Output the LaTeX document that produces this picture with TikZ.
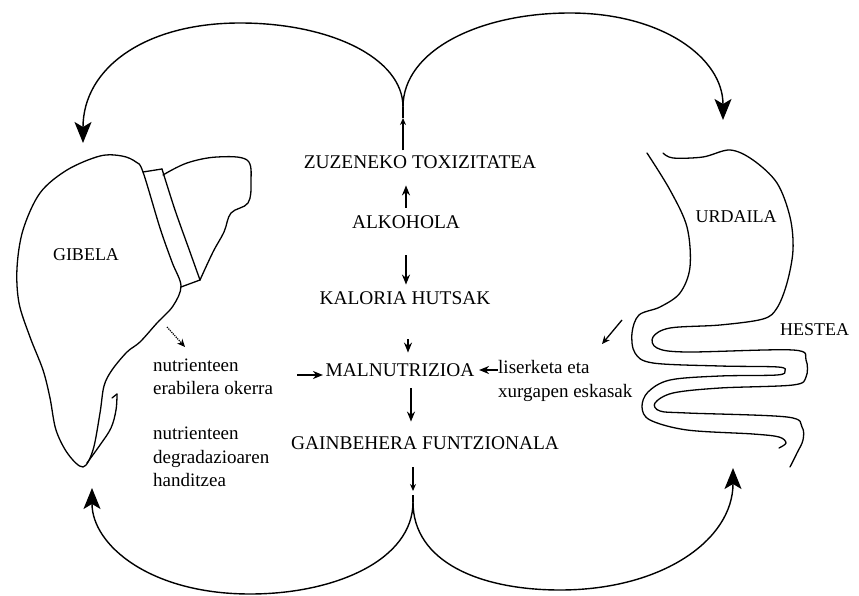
\documentclass[tikz,border=0pt]{standalone}
\usepackage{fontspec}
\setmainfont{Liberation Serif}
\usetikzlibrary{arrows.meta}
\begin{document}
\begin{tikzpicture}[x=1pt,y=-1pt,
  lbl/.style={inner sep=0pt, font=\fontsize{19.4}{23}\selectfont},
  organ/.style={inner sep=0pt, font=\fontsize{18}{22}\selectfont},
  note/.style={inner sep=0pt, align=left, anchor=west, font=\fontsize{19}{23.5}\selectfont},
  outline/.style={line width=1.3pt, line join=round, line cap=round},
  cyclearc/.style={line width=1.4pt, -{Stealth[length=21pt,width=17pt,inset=5pt]}},
  flow/.style={line width=1.8pt, -{Stealth[length=10pt,width=8pt]}},
  flowsmall/.style={line width=1.4pt, -{Stealth[length=7pt,width=6pt]}},
]
\useasboundingbox (0,0) rectangle (859,596);

% ---- central chain of labels ----
\node[lbl] (zuz)  at (420,162) {ZUZENEKO TOXIZITATEA};
\node[lbl] (alk)  at (406,222) {ALKOHOLA};
\node[lbl] (kal)  at (405,298) {KALORIA HUTSAK};
\node[lbl] (mal)  at (400,370) {MALNUTRIZIOA};
\node[lbl] (gain) at (425,443) {GAINBEHERA FUNTZIONALA};

% ---- side notes ----
\node[note] (use)  at (153,377) {nutrienteen\\erabilera okerra};
\node[note] (degr) at (153,457) {nutrienteen\\degradazioaren\\handitzea};
\node[note] (lis)  at (498,381) {liserketa eta\\xurgapen eskasak};

% ---- organ names ----
\node[organ] (gibela)  at (86,255)  {GIBELA};
\node[organ] (urdaila) at (736,217) {URDAILA};
\node[organ, anchor=west] (hestea) at (780,330) {HESTEA};

% ---- junction points of the big cycle arcs ----
\coordinate (J1) at (403,107);
\coordinate (ja) at (403,118);
\coordinate (J2) at (413,502);
\coordinate (jb) at (413,491);
\coordinate (jc) at (413,495);
\coordinate (liverend)  at (83,143);
\coordinate (stomachend) at (723,120);
\coordinate (liverup)   at (92,488);
\coordinate (gutup)     at (733,468);

% ---- arrows of the chain ----
\draw[flow, shorten <=7.7pt, shorten >=16.7pt] (alk.north) -- (alk.north |- zuz.south);
\draw[flow, shorten <=26.7pt, shorten >=6.7pt] (alk.south) -- (alk.south |- kal.north);
\draw[flow, line width=1.5pt, shorten <=34.7pt, shorten >=10.7pt] ([xshift=3pt]kal.south) -- ([xshift=3pt]kal.south |- mal.north);
\draw[flow, shorten <=11.7pt, shorten >=14.7pt] ([xshift=11pt]mal.south) -- ([xshift=11pt]mal.south |- gain.north);
\draw[flowsmall, shorten <=17.7pt] (gain.south -| jb) -- (jb);
\draw[line width=1.2pt] (jc) -- (J2);
\draw[flowsmall, shorten <=5pt] (zuz.north -| J1) -- (ja);
\draw[line width=1.2pt] (ja) -- (J1);

\coordinate (malin) at (297,375);
\draw[flow, shorten >=2.5pt] (malin) -- (mal.west |- malin);
\draw[flow, shorten >=4.5pt] (lis.west |- mal.east) -- (mal.east);

% ---- the four cycle arcs ----
\draw[cyclearc] (J1) .. controls (403,58) and (330,23) .. (240,23)
                     .. controls (145,23) and (83,68) .. (liverend);
\draw[cyclearc] (J1) .. controls (403,50) and (480,13) .. (570,13)
                     .. controls (662,13) and (723,58) .. (stomachend);
\draw[cyclearc] (J2) .. controls (413,560) and (335,594) .. (250,594)
                     .. controls (150,594) and (92,545) .. (liverup);
\draw[cyclearc] (J2) .. controls (413,562) and (480,590) .. (560,590)
                     .. controls (662,590) and (733,540) .. (gutup);

% ---- liver ----
\draw[outline] plot[smooth cycle, tension=0.55] coordinates {
  (143,172) (160,228) (172,262) (181,286) (173,306) (157,323) (140,342)
  (127,352) (112,370) (104,386) (100,413) (93,450) (83,467) (68,454)
  (56,430) (50,398) (43,370) (30,337) (19,303) (17,268) (23,230) (40,193)
  (67,170) (100,156) (122,156) (136,162)};
% ligament band
\draw[outline] (143,172) -- (162,169);
\draw[outline] plot[smooth, tension=0.5] coordinates {(162,169) (175,210) (190,252) (200,280)};
\draw[outline] (181,287) -- (200,280);
% right lobe
\draw[outline] plot[smooth, tension=0.6] coordinates {
  (163,175) (187,163) (217,157) (247,160) (251,182) (248,203)
  (231,213) (224,232) (213,252) (200,280)};
% inner contour of the lower edge
\draw[outline] plot[smooth, tension=0.6] coordinates {
  (87,463) (100,445) (111,428) (116,410) (117,394)};
\draw[outline] (117,394) -- (112,398);

\coordinate (lv1) at (167,327);
\coordinate (lv2) at (185,347);
\draw[line width=1.2pt, densely dotted, -{Stealth[length=8pt,width=7pt]}] (lv1) -- (lv2);

% ---- stomach and intestine ----
\draw[outline] plot[smooth, tension=0.55] coordinates {
  (647,153) (670,190) (687,227) (690,267) (680,293) (660,307) (639,315)
  (632,333) (635,353) (653,363) (720,366) (778,367) (785,371) (777,375)
  (720,376) (670,380) (648,392) (642,407) (650,420) (687,430) (753,434)
  (779,437) (786,443) (779,448)};
\draw[outline] plot[smooth, tension=0.55] coordinates {
  (663,153) (673,158) (703,157) (730,150) (753,160) (777,183) (790,217)
  (793,250) (787,283) (777,308) (763,319) (720,325) (670,328) (653,337)
  (657,348) (687,352) (793,350) (806,360) (806,377) (793,385) (720,388)
  (673,393) (655,403) (660,411) (687,413) (787,417) (802,427) (803,440)
  (797,453) (790,467)};

\coordinate (gut1) at (622,320);
\coordinate (gut2) at (602,344);
\draw[line width=1.3pt, -{Stealth[length=8pt,width=7pt]}] (gut1) -- (gut2);
\end{tikzpicture}
\end{document}
